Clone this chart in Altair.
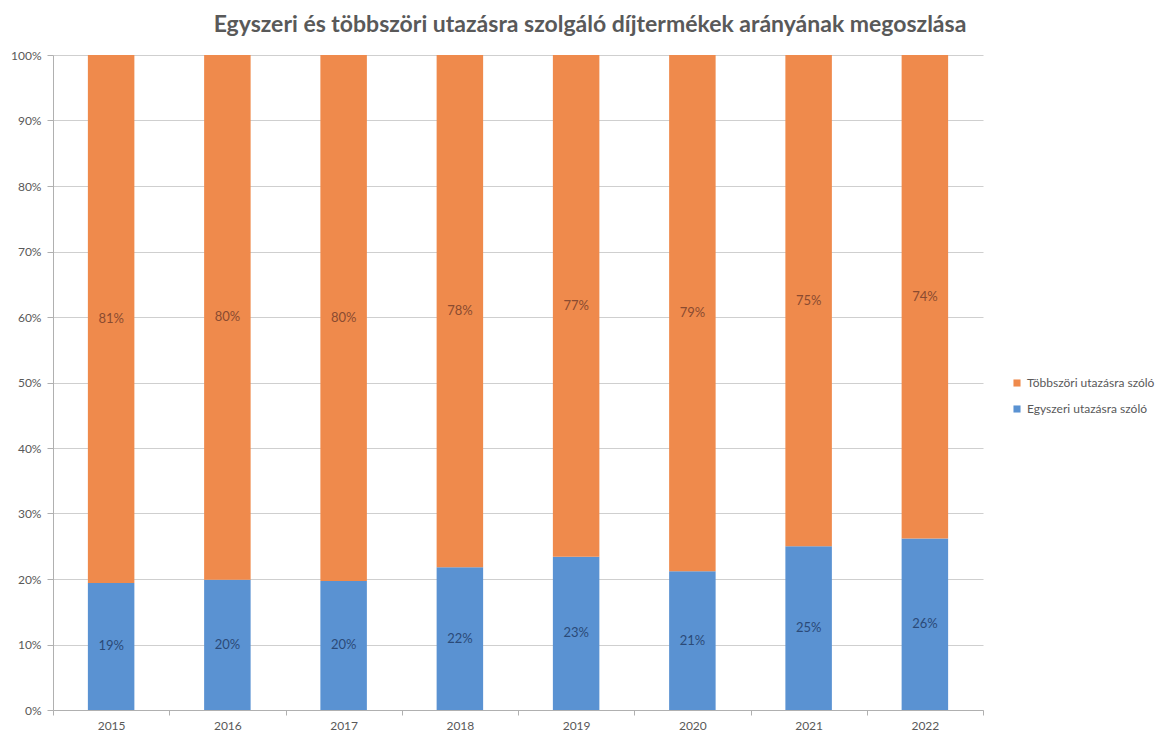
import altair as alt
import pandas as pd

years = ["2015", "2016", "2017", "2018", "2019", "2020", "2021", "2022"]
egyszeri = [19.4, 19.9, 19.7, 21.8, 23.4, 21.2, 25.0, 26.2]
tobbszori = [80.6, 80.1, 80.3, 78.2, 76.6, 78.8, 75.0, 73.8]
series = ["Többszöri utazásra szóló", "Egyszeri utazásra szóló"]
colors = ["#EF8A4C", "#5A92D2"]
label_colors = ["#8A4B30", "#2B4A78"]
title_text = "Egyszeri és többszöri utazásra szolgáló díjtermékek arányának megoszlása"

rows = []
for i, y in enumerate(years):
    rows.append({"year": y, "series": series[1], "value": egyszeri[i], "ord": 0})
    rows.append({"year": y, "series": series[0], "value": tobbszori[i], "ord": 1})
df = pd.DataFrame(rows)

FONT = "Lato"

base = alt.Chart(df).transform_stack(
    stack="value", groupby=["year"], as_=["v0", "v1"],
    sort=[alt.SortField("ord", order="ascending")]
).transform_calculate(
    mid="(datum.v0 + datum.v1) / 2",
    lab="format(datum.value, '.0f') + '%'"
)

x_enc = alt.X("year:N", title=None,
              scale=alt.Scale(paddingInner=0, paddingOuter=0),
              axis=alt.Axis(labelAngle=0, tickBand="extent", ticks=True,
                            tickSize=5, tickColor="#b0b0b0",
                            domainColor="#b0b0b0", labelPadding=5,
                            labelFontSize=12, labelColor="#595959",
                            labelFont=FONT))

bars = base.mark_bar(width=alt.RelativeBandSize(0.4)).encode(
    x=x_enc,
    y=alt.Y("v0:Q", title=None,
            scale=alt.Scale(domain=[0, 100], nice=False),
            axis=alt.Axis(values=list(range(0, 101, 10)),
                          labelExpr="datum.value + '%'",
                          grid=True, gridColor="#cfcfcf",
                          domainColor="#b0b0b0", tickColor="#b0b0b0",
                          tickSize=6, labelPadding=6,
                          labelFontSize=12, labelColor="#595959",
                          labelFont=FONT)),
    y2="v1:Q",
    color=alt.Color("series:N",
                    scale=alt.Scale(domain=series, range=colors),
                    legend=alt.Legend(title=None, orient="none",
                                      legendX=958, legendY=322,
                                      symbolType="square", symbolSize=50,
                                      symbolStrokeWidth=0,
                                      labelFontSize=12, labelColor="#595959",
                                      labelFont=FONT, rowPadding=14,
                                      padding=0, labelOffset=4)),
)

texts = base.mark_text(fontSize=13, font=FONT).encode(
    x=alt.X("year:N"),
    y=alt.Y("mid:Q"),
    text="lab:N",
    color=alt.Color("series:N",
                    scale=alt.Scale(domain=series, range=label_colors),
                    legend=None),
)

chart = alt.layer(bars, texts).resolve_scale(color="independent").properties(
    width=930, height=655,
    padding={"left": 45, "top": 47, "right": 174, "bottom": 22},
    autosize=alt.AutoSizeParams(type="none"),
    title=alt.TitleParams(title_text, font=FONT, fontSize=23, fontWeight="bold",
                          color="#595959", anchor="middle", dx=72, offset=12),
).configure_view(stroke=None)

chart.save("out.html", embed_options={"renderer": "svg", "actions": False})
